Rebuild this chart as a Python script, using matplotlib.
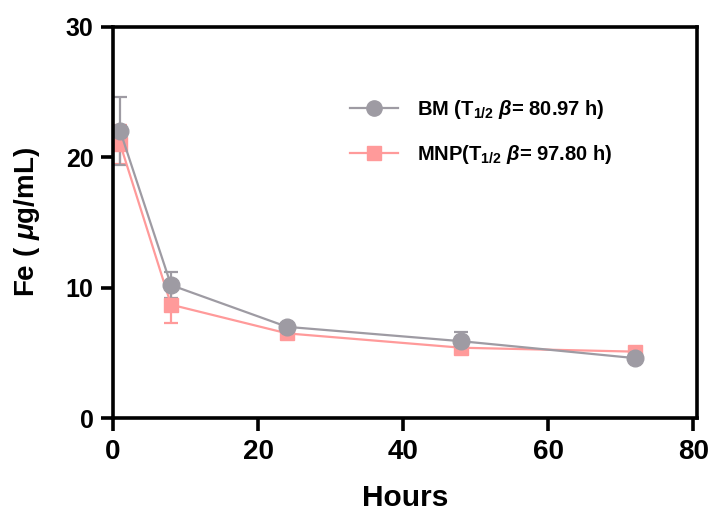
import numpy as np
import matplotlib.pyplot as plt
from matplotlib.lines import Line2D

plt.rcParams['font.family'] = ['Liberation Sans', 'DejaVu Sans']
plt.rcParams['font.weight'] = 'bold'
plt.rcParams['mathtext.fontset'] = 'custom'
plt.rcParams['mathtext.rm'] = 'Liberation Sans:bold'
plt.rcParams['mathtext.it'] = 'Liberation Sans:italic:bold'
plt.rcParams['mathtext.bf'] = 'Liberation Sans:bold'

# sampling times (h) and iron concentration (ug/mL)
hours = [1, 8, 24, 48, 72]
bm_fe = [22.0, 10.2, 7.0, 5.9, 4.6]
bm_err = [2.6, 1.0, 0.3, 0.7, 0.2]
mnp_fe = [21.0, 8.7, 6.5, 5.4, 5.1]
mnp_err = [1.5, 1.4, 0.2, 0.3, 0.2]

bm_label = r'BM (T$_{1/2}$ $\mathit{\beta}$= 80.97 h)'
mnp_label = r'MNP(T$_{1/2}$ $\mathit{\beta}$= 97.80 h)'

gray = '#9e9ba3'
pink = '#ff9a9a'

fig = plt.figure(figsize=(7.15, 5.15), dpi=100)
ax = fig.add_axes([0.158, 0.188, 0.817, 0.760])

ax.errorbar(hours, mnp_fe, yerr=mnp_err, color=pink, marker='s', ms=10.5,
            lw=1.6, elinewidth=1.6, capsize=5, capthick=1.6)
ax.errorbar(hours, bm_fe, yerr=bm_err, color=gray, marker='o', ms=12,
            lw=1.6, elinewidth=1.6, capsize=5, capthick=1.6)

ax.set_xlim(0, 80.5)
ax.set_ylim(0, 30)
ax.set_xticks([0, 20, 40, 60, 80])
ax.set_yticks([0, 10, 20, 30])
for s in ax.spines.values():
    s.set_linewidth(2.6)
ax.tick_params(width=2.6, length=9)
ax.tick_params(axis='x', labelsize=20, pad=6)
ax.tick_params(axis='y', labelsize=18, pad=5)

ax.set_xlabel('Hours', fontsize=21.5, fontweight='bold', labelpad=14)
ax.set_ylabel(r'Fe ( $\mathit{\mu}$g/mL)', fontsize=20, fontweight='bold', labelpad=17)

# legend entries drawn without error bars
handles = [Line2D([], [], color=gray, marker='o', ms=11, lw=1.6),
           Line2D([], [], color=pink, marker='s', ms=10, lw=1.6)]
ax.legend(handles, [bm_label, mnp_label], loc='upper left',
          bbox_to_anchor=(0.375, 0.865), frameon=False, fontsize=14.5,
          handlelength=2.4, handletextpad=0.9, labelspacing=1.1)

fig.savefig('out.png', dpi=100)
